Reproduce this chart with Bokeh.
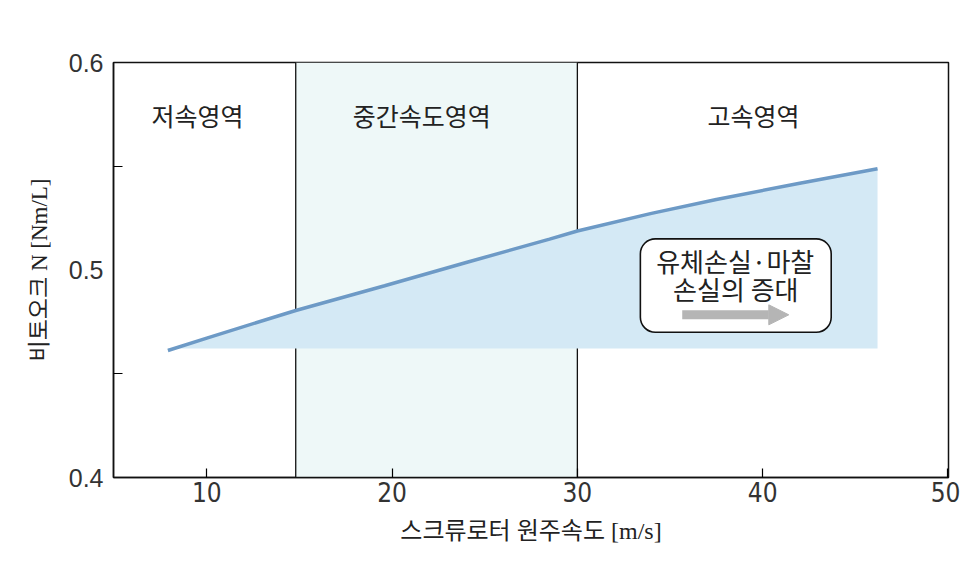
from bokeh.plotting import figure
from bokeh.models import BoxAnnotation, Span, Arrow, NormalHead, FixedTicker, Label, ColumnDataSource
from bokeh.core.properties import value
from bokeh.embed import file_html
from bokeh.resources import INLINE

# ---- data ----
speed = [7.9, 10, 14.8, 19.6, 24, 28.5, 30, 34, 37.5, 42, 46.2]          # m/s
torque = [0.4612, 0.4672, 0.4805, 0.4924, 0.5036, 0.5149, 0.5188, 0.5273, 0.5340, 0.5418, 0.5488]  # Nm/L
fill_base = [0.4622] * len(speed)

region_bounds = [14.8, 30]
region_names = ["저속영역", "중간속도영역", "고속영역"]
region_label_x = [9.5, 21.6, 39.5]
region_label_y = [0.5745, 0.5745, 0.5745]

x_ticks = [10, 20, 30, 40, 50]
y_ticks = [0.4, 0.5, 0.6]
y_minor = [0.45, 0.55]

KR = "Noto Sans CJK KR"
MIX = "'Liberation Serif', 'Noto Sans CJK KR'"
NUM = "Liberation Sans"
NARROW = "'Liberation Sans Narrow', 'DejaVu Sans Condensed', 'Liberation Sans'"

p = figure(width=960, height=557, x_range=(4.965, 50.03), y_range=(0.4, 0.6),
           output_backend="svg", toolbar_location=None,
           min_border_left=113, min_border_right=12, min_border_top=62, min_border_bottom=80)
p.background_fill_color = "white"
p.border_fill_color = "white"
p.outline_line_color = "#111111"
p.outline_line_width = 1.5
p.grid.visible = False

# middle region shading
p.add_layout(BoxAnnotation(left=region_bounds[0], right=region_bounds[1], fill_color="#eef8f8",
                           fill_alpha=1, line_color=None, level="underlay"))
for b in region_bounds:
    p.add_layout(Span(location=b, dimension="height", line_color="#111111", line_width=1.3, level="underlay"))

# filled area under the curve
p.varea(x=speed, y1=fill_base, y2=torque, fill_color="#d4e9f5", fill_alpha=1)
p.line(speed, torque, line_color="#6d9ac6", line_width=3.5)

# region labels
src = ColumnDataSource(dict(x=region_label_x, y=region_label_y, t=region_names))
p.text(x="x", y="y", text="t", source=src, text_font=value(KR), text_font_size="25px",
       text_align="center", text_baseline="middle", text_color="#222222")

# callout box
p.add_layout(BoxAnnotation(left=33.4, right=43.7, top=0.515, bottom=0.470, fill_color="white",
                           fill_alpha=1, line_color="#111111", line_alpha=1, line_width=1.6,
                           border_radius=15))
p.add_layout(Label(x=38.52, y=0.5046, text="유체손실·마찰", text_font=KR, text_font_size="26px",
                   text_align="center", text_baseline="middle", text_color="#222222"))
p.add_layout(Label(x=38.55, y=0.4912, text="손실의 증대", text_font=KR, text_font_size="26px",
                   text_align="center", text_baseline="middle", text_color="#222222"))
p.add_layout(Arrow(end=NormalHead(size=20, fill_color="#b5b5b5", line_color="#b5b5b5"),
                   x_start=35.66, y_start=0.4784, x_end=41.41, y_end=0.4784,
                   line_width=9, line_color="#b5b5b5"))

# axes
xa = p.xaxis[0]
xa.ticker = FixedTicker(ticks=x_ticks)
xa.major_tick_in = 9
xa.major_tick_out = 0
xa.minor_tick_line_color = None
xa.axis_line_color = "#111111"
xa.axis_line_width = 1.5
xa.major_tick_line_width = 1.2
xa.major_label_text_font = NARROW
xa.major_label_text_font_size = "26px"
xa.major_label_text_color = "#333333"
xa.major_label_standoff = 4
xa.axis_label = "스크류로터 원주속도 [m/s]"
xa.axis_label_text_font = MIX
xa.axis_label_text_font_style = "normal"
xa.axis_label_text_font_size = "24px"
xa.axis_label_text_color = "#222222"
xa.axis_label_standoff = 13

ya = p.yaxis[0]
ya.ticker = FixedTicker(ticks=y_ticks, minor_ticks=y_minor)
ya.major_tick_in = 0
ya.major_tick_out = 0
ya.minor_tick_in = 9
ya.minor_tick_out = 0
ya.minor_tick_line_width = 1.2
ya.axis_line_color = "#111111"
ya.axis_line_width = 1.5
ya.major_label_text_font = NUM
ya.major_label_text_font_size = "25px"
ya.major_label_text_color = "#333333"
ya.major_label_standoff = 10
ya.axis_label = "비토오크 N [Nm/L]"
ya.axis_label_text_font = MIX
ya.axis_label_text_font_style = "normal"
ya.axis_label_text_font_size = "23px"
ya.axis_label_text_color = "#222222"
ya.axis_label_standoff = 14

open("out.html", "w").write(file_html(p, INLINE))
